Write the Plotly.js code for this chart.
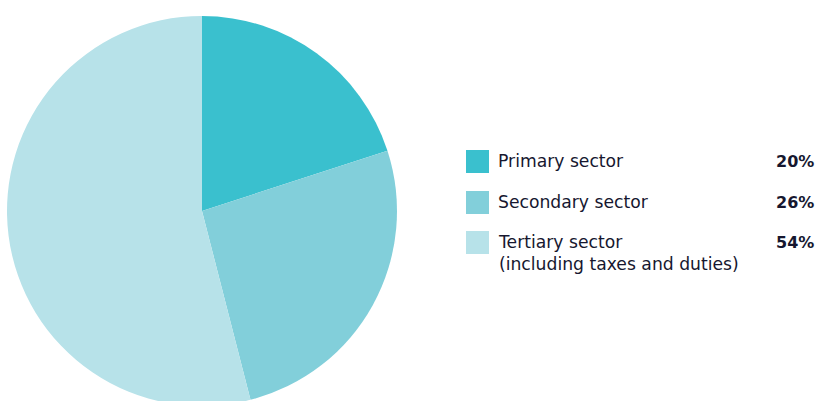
<!DOCTYPE html>
<html>
<head>
<meta charset="utf-8">
<script src="https://cdn.plot.ly/plotly-3.0.1.min.js"></script>
<style>
html, body { margin: 0; padding: 0; width: 819px; height: 401px; overflow: hidden; background: #fff; }
#chart { width: 819px; height: 410px; }
</style>
</head>
<body>
<div id="chart"></div>
<script>
const labels = ["Primary sector", "Secondary sector", "Tertiary sector<br>(including taxes and duties)"];
const values = [20, 26, 54];
const pctLabels = ["20%", "26%", "54%"];
const colors = ["#3AC0CE", "#82CFDA", "#B7E2E9"];

const W = 819, H = 410;
const textColor = "#16172f";
const fontFamily = "'DejaVu Sans', 'Open Sans', sans-serif";

const trace = {
  type: "pie",
  labels: labels,
  values: values,
  sort: false,
  direction: "clockwise",
  rotation: 0,
  textinfo: "none",
  hoverinfo: "label+percent",
  marker: { colors: colors, line: { width: 0 } },
  domain: { x: [7 / W, 397 / W], y: [4 / H, 394 / H] },
  showlegend: false
};

// legend rows: first-line centre y (px)
const rowY = [161, 202, 242];
const shapes = [];
const annotations = [];
labels.forEach((lab, i) => {
  const yc = rowY[i];
  shapes.push({
    type: "rect", xref: "paper", yref: "paper",
    x0: 466 / W, x1: 489 / W,
    y0: 1 - (yc - 11) / H, y1: 1 - (yc + 12) / H,
    fillcolor: colors[i], line: { width: 0 }
  });
  annotations.push({
    xref: "paper", yref: "paper",
    x: 496 / W, y: 1 - (yc - 12) / H,
    xanchor: "left", yanchor: "top", align: "left",
    text: lab, showarrow: false,
    font: { family: fontFamily, size: 17.2, color: textColor }
  });
  annotations.push({
    xref: "paper", yref: "paper",
    x: 816 / W, y: 1 - yc / H,
    xanchor: "right", yanchor: "middle", align: "right",
    text: "<b>" + pctLabels[i] + "</b>", showarrow: false,
    font: { family: fontFamily, size: 16, color: textColor }
  });
});

const layout = {
  width: W, height: H,
  margin: { l: 0, r: 0, t: 0, b: 0 },
  paper_bgcolor: "#ffffff",
  plot_bgcolor: "#ffffff",
  shapes: shapes,
  annotations: annotations,
  showlegend: false
};

Plotly.newPlot("chart", [trace], layout, { displayModeBar: false, staticPlot: true });
</script>
</body>
</html>
